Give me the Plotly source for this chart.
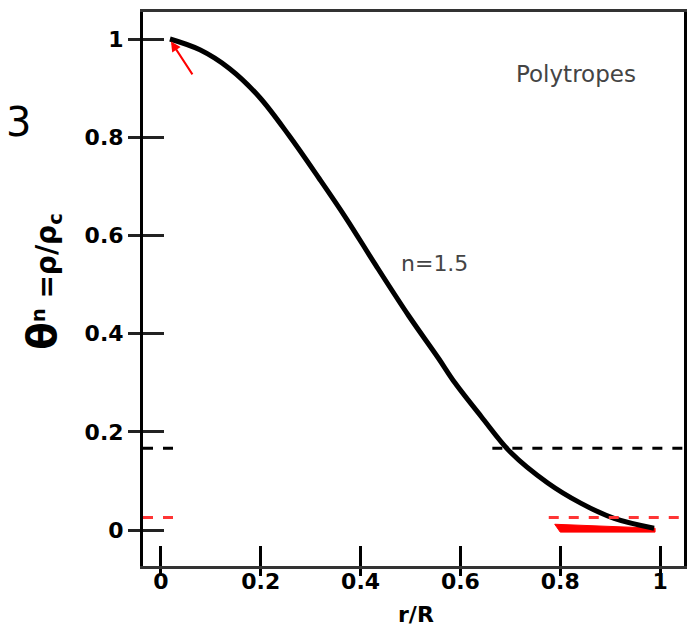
import plotly.graph_objects as go

# Lane-Emden n=1.5 density profile
r_vals = [0.018, 0.078, 0.137, 0.197, 0.257, 0.317, 0.371, 0.430, 0.496, 0.556,
          0.589, 0.642, 0.701, 0.775, 0.841, 0.908, 0.988]
theta_vals = [1.0, 0.978, 0.940, 0.882, 0.803, 0.716, 0.635, 0.540, 0.437, 0.350,
              0.300, 0.231, 0.158, 0.096, 0.055, 0.024, 0.004]

# dashed reference levels (two segments each, None = break)
black_dash_r = [-0.036, 0.034, None, 0.664, 1.048]
black_dash_theta = [0.167, 0.167, None, 0.167, 0.167]
red_dash_r = [-0.036, 0.034, None, 0.777, 1.048]
red_dash_theta = [0.026, 0.026, None, 0.026, 0.026]

# red wedge near surface
red_band_r = [0.789, 0.99, 0.99, 0.80, 0.789]
red_band_theta = [0.012, 0.004, -0.004, -0.004, 0.012]

x_ticks = [0, 0.2, 0.4, 0.6, 0.8, 1]
x_tick_text = ["0", "0.2", "0.4", "0.6", "0.8", "1"]
y_ticks = [0, 0.2, 0.4, 0.6, 0.8, 1]
y_tick_text = ["0", "0.2", "0.4", "0.6", "0.8", "1"]

X_RANGE = [-0.036, 1.048]
Y_RANGE = [-0.073, 1.055]

fig = go.Figure()

fig.add_trace(go.Scatter(x=black_dash_r, y=black_dash_theta, mode="lines",
                         line=dict(color="black", width=3, dash="10px,10px"),
                         xaxis="x2", yaxis="y2", showlegend=False, hoverinfo="skip"))
fig.add_trace(go.Scatter(x=red_dash_r, y=red_dash_theta, mode="lines",
                         line=dict(color="#ff3535", width=3, dash="10px,10px"),
                         xaxis="x2", yaxis="y2", showlegend=False, hoverinfo="skip"))
fig.add_trace(go.Scatter(x=red_band_r, y=red_band_theta, mode="lines", fill="toself",
                         fillcolor="red", line=dict(color="red", width=1),
                         showlegend=False, hoverinfo="skip"))
fig.add_trace(go.Scatter(x=r_vals, y=theta_vals, mode="lines",
                         line=dict(color="black", width=5, shape="spline", smoothing=1.0),
                         showlegend=False))

tickfont = dict(family="DejaVu Sans", size=22, color="black")

fig.update_layout(
    width=693, height=626,
    margin=dict(l=143, r=6, t=12, b=60),
    paper_bgcolor="white", plot_bgcolor="white",
    font=dict(family="DejaVu Sans"),
    xaxis=dict(range=X_RANGE, tickvals=x_ticks, showticklabels=False,
               ticks="outside", ticklen=7, tickwidth=3, tickcolor="black",
               showgrid=False, zeroline=False, showline=True, linecolor="#333",
               linewidth=3, mirror=True),
    yaxis=dict(range=Y_RANGE, tickvals=y_ticks, ticktext=[f"<b>{t}</b>" for t in y_tick_text],
               ticks="outside", ticklen=12, tickwidth=3, tickcolor="#222",
               showgrid=False, zeroline=False, showline=True, linecolor="black",
               linewidth=3, mirror=True, tickfont=tickfont),
    xaxis2=dict(range=X_RANGE, overlaying="x", side="bottom", anchor="y",
                tickvals=x_ticks, ticktext=[f"<b>{t}</b>" for t in x_tick_text],
                showticklabels=True, tickfont=tickfont,
                ticks="inside", ticklen=20, tickwidth=3, tickcolor="black",
                showgrid=False, zeroline=False, showline=False),
    yaxis2=dict(range=Y_RANGE, overlaying="y", tickvals=y_ticks, showticklabels=False,
                ticks="inside", ticklen=21, tickwidth=3, tickcolor="#222",
                showgrid=False, zeroline=False, showline=False),
)

fig.add_annotation(x=0.02, y=0.995, ax=0.065, ay=0.925, xref="x", yref="y",
                   axref="x", ayref="y", showarrow=True, arrowhead=2, arrowsize=1,
                   arrowwidth=2, arrowcolor="red", text="")

fig.add_annotation(x=0.548, y=0.542, xref="x", yref="y", text="n=1.5", showarrow=False,
                   xanchor="center", yanchor="middle",
                   font=dict(family="DejaVu Sans", size=22, color="#444"))
fig.add_annotation(x=0.7996, y=0.888, xref="paper", yref="paper", text="Polytropes",
                   showarrow=False, xanchor="center", yanchor="middle",
                   font=dict(family="DejaVu Sans", size=23, color="#444"))
fig.add_annotation(x=0.5055, y=-0.0884, xref="paper", yref="paper", text="<b>r/R</b>",
                   showarrow=False, xanchor="center", yanchor="middle",
                   font=dict(family="DejaVu Sans", size=22, color="black"))
fig.add_annotation(x=-0.1838, y=0.514, xref="paper", yref="paper", textangle=-90,
                   xanchor="center", yanchor="middle",
                   text="<b><span style='font-size:40px'>θ</span><sup>n</sup> =ρ/ρ<sub>c</sub></b>",
                   showarrow=False, font=dict(family="DejaVu Sans", size=28, color="black"))
fig.add_annotation(x=-0.2574, y=0.8014, xref="paper", yref="paper", xanchor="left",
                   yanchor="middle", text="3", showarrow=False,
                   font=dict(family="DejaVu Sans", size=40, color="black"))

fig.write_html("out.html")
